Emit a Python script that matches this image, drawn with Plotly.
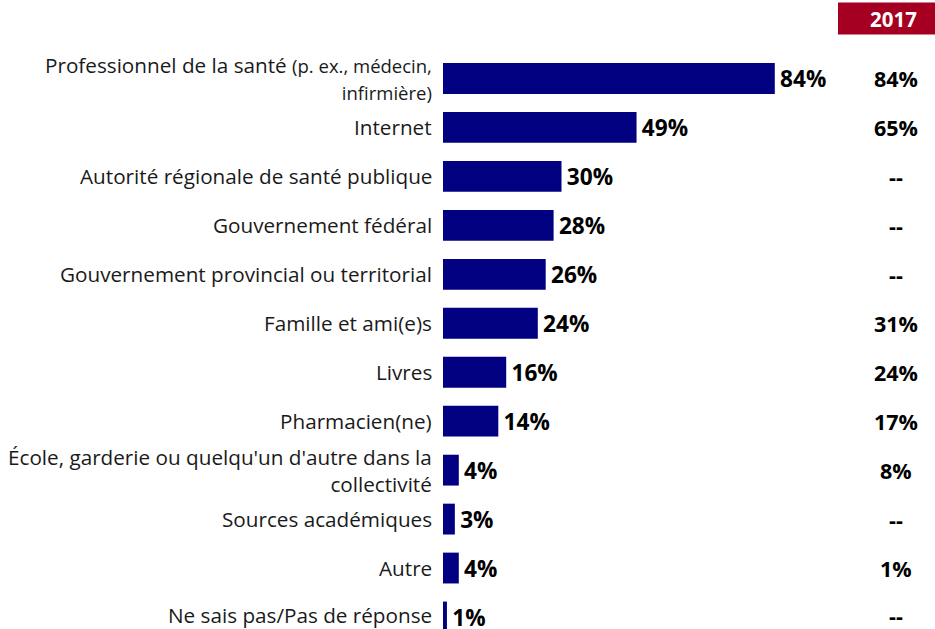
import plotly.graph_objects as go

categories = [
    "Professionnel de la santé <span style='font-size:18.5px'>(p. ex., médecin,<br>infirmière)</span>",
    "Internet",
    "Autorité régionale de santé publique",
    "Gouvernement fédéral",
    "Gouvernement provincial ou territorial",
    "Famille et ami(e)s",
    "Livres",
    "Pharmacien(ne)",
    "École, garderie ou quelqu'un d'autre dans la<br>collectivité",
    "Sources académiques",
    "Autre",
    "Ne sais pas/Pas de réponse",
]
values_current = [84, 49, 30, 28, 26, 24, 16, 14, 4, 3, 4, 1]
values_2017 = ["84%", "65%", "--", "--", "--", "31%", "24%", "17%", "8%", "--", "1%", "--"]
header_2017 = "2017"

W, H = 935, 629
ml, mr, mt, mb = 443, 97, 53.5, 0
plot_w = W - ml - mr
plot_h = H - mt - mb
row_px = 49.0
n_vis = plot_h / row_px

idx = list(range(len(categories)))
FONT = "Open Sans"

fig = go.Figure()
fig.add_trace(go.Bar(
    y=idx, x=values_current, orientation="h",
    marker=dict(color="#000080", line=dict(width=0)),
    text=[f"<b>\u200a{v}%</b>" for v in values_current],
    textposition="outside",
    textfont=dict(family=FONT, size=23.5, color="#000000"),
    cliponaxis=False,
    width=0.63,
    hoverinfo="skip",
))

def px2paper_x(px):
    return (px - ml) / plot_w

def py2paper(py):
    return (H - mb - py) / plot_h

last = len(categories) - 1
annotations = []
for i, c in enumerate(categories):
    annotations.append(dict(
        x=0, y=i, xref="x", yref="y", text=c, showarrow=False,
        xanchor="right", yanchor="middle", xshift=-9, align="right",
        yshift=2 if i == last else 0,
        font=dict(family=FONT, size=20.7, color="#1a1a1a"),
    ))
for i, v in enumerate(values_2017):
    annotations.append(dict(
        x=px2paper_x(895.5), y=i, xref="paper", yref="y", text=f"<b>{v}</b>", showarrow=False,
        xanchor="center", yanchor="middle",
        yshift=2 if i == last else 0,
        font=dict(family=FONT, size=21.5, color="#000000"),
    ))

annotations.append(dict(
    x=px2paper_x(893), y=py2paper(18), xref="paper", yref="paper",
    text=f"<b>{header_2017}</b>", showarrow=False, xanchor="center", yanchor="middle",
    font=dict(family=FONT, size=20.5, color="#ffffff"),
))

fig.update_layout(
    width=W, height=H,
    margin=dict(l=ml, r=mr, t=mt, b=mb, pad=0),
    paper_bgcolor="white", plot_bgcolor="white",
    showlegend=False,
    xaxis=dict(range=[0, 100], visible=False, fixedrange=True),
    yaxis=dict(range=[-0.5 + n_vis, -0.5], visible=False, fixedrange=True),
    annotations=annotations,
    shapes=[dict(
        type="rect", xref="paper", yref="paper",
        x0=px2paper_x(838), x1=px2paper_x(935),
        y0=py2paper(34), y1=py2paper(2),
        fillcolor="#A50021", line=dict(width=0), layer="below",
    )],
)

fig.write_html(
    "out.html",
    config={"displayModeBar": False},
    post_script="document.body.style.margin='0';document.body.style.overflow='hidden';",
)
